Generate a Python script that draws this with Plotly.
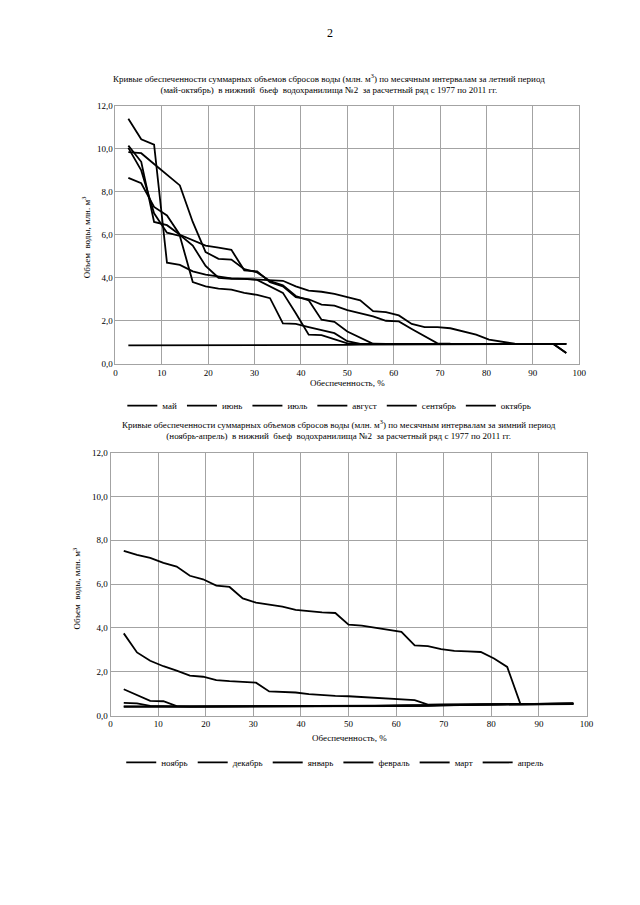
import plotly.graph_objects as go

# Обеспеченность, % (35 лет, 1977-2011)
p = [2.78, 5.56, 8.33, 11.11, 13.89, 16.67, 19.44, 22.22, 25.0, 27.78,
     30.56, 33.33, 36.11, 38.89, 41.67, 44.44, 47.22, 50.0, 52.78, 55.56,
     58.33, 61.11, 63.89, 66.67, 69.44, 72.22, 75.0, 77.78, 80.56, 83.33,
     86.11, 88.89, 91.67, 94.44, 97.22]

summer_names = ["май", "июнь", "июль", "август", "сентябрь", "октябрь"]
may = [11.4, 10.45, 10.2, 4.7, 4.6, 4.3, 4.15, 4.05, 3.97, 3.95, 3.92, 3.88, 3.86, 3.6, 3.4,
       3.35, 3.25, 3.1, 2.95, 2.45, 2.4, 2.25, 1.85, 1.7, 1.7, 1.65, 1.5, 1.35, 1.12, 1.02,
       0.93, 0.92, 0.92, 0.92, 0.5]
jun = [10.15, 9.4, 6.6, 6.45, 6.0, 5.75, 5.5, 5.4, 5.3, 4.35, 4.3, 3.8, 3.6, 3.1, 3.0,
       2.75, 2.7, 2.5, 2.35, 2.2, 2.0, 1.97, 1.62, 1.3, 0.95, 0.93, 0.93, 0.93, 0.93, 0.93,
       0.92, 0.92, 0.92, 0.92, 0.92]
jul = [9.85, 9.8, 9.3, 8.8, 8.3, 6.6, 5.2, 4.88, 4.85, 4.4, 4.25, 3.85, 3.65, 3.15, 2.95,
       2.05, 1.95, 1.5, 1.2, 0.93, 0.92, 0.92, 0.92, 0.92, 0.92, 0.92, 0.92, 0.92, 0.92, 0.92,
       0.92, 0.92, 0.92, 0.92, 0.92]
aug = [8.65, 8.4, 7.3, 6.9, 6.0, 5.5, 4.55, 4.0, 3.95, 3.95, 3.9, 3.6, 3.3, 2.35, 1.35,
       1.33, 1.15, 0.95, 0.92, 0.92, 0.92, 0.92, 0.92, 0.92, 0.92, 0.92, 0.92, 0.92, 0.92, 0.92,
       0.92, 0.92, 0.92, 0.92, 0.92]
sep = [10.05, 9.0, 7.0, 6.1, 5.95, 3.8, 3.6, 3.5, 3.45, 3.3, 3.2, 3.05, 1.88, 1.85, 1.7,
       1.55, 1.42, 1.05, 0.92, 0.92, 0.92, 0.92, 0.92, 0.92, 0.92, 0.92, 0.92, 0.92, 0.92, 0.92,
       0.92, 0.92, 0.92, 0.92, 0.92]
octb = [0.85, 0.85, 0.85, 0.85, 0.85, 0.85, 0.86, 0.86, 0.86, 0.86, 0.87, 0.87, 0.87, 0.87, 0.88,
        0.88, 0.88, 0.88, 0.89, 0.89, 0.89, 0.89, 0.9, 0.9, 0.9, 0.9, 0.9, 0.9, 0.91, 0.91,
        0.91, 0.91, 0.91, 0.92, 0.5]

winter_names = ["ноябрь", "декабрь", "январь", "февраль", "март", "апрель"]
nov = [3.75, 2.88, 2.5, 2.25, 2.05, 1.82, 1.77, 1.62, 1.57, 1.53, 1.5, 1.1, 1.08, 1.05, 0.98,
       0.93, 0.9, 0.88, 0.85, 0.8, 0.76, 0.73, 0.7, 0.5, 0.5, 0.5, 0.51, 0.51, 0.52, 0.52,
       0.53, 0.53, 0.54, 0.54, 0.55]
dec = [1.2, 0.95, 0.67, 0.65, 0.43, 0.42, 0.42, 0.42, 0.42, 0.42, 0.43, 0.43, 0.43, 0.43, 0.44,
       0.44, 0.44, 0.45, 0.45, 0.45, 0.46, 0.46, 0.47, 0.48, 0.5, 0.5, 0.5, 0.51, 0.51, 0.52,
       0.52, 0.53, 0.53, 0.54, 0.55]
jan = [0.58, 0.55, 0.44, 0.42, 0.41, 0.41, 0.41, 0.41, 0.41, 0.42, 0.42, 0.42, 0.42, 0.42, 0.43,
       0.43, 0.43, 0.43, 0.44, 0.44, 0.44, 0.45, 0.46, 0.48, 0.5, 0.5, 0.5, 0.5, 0.51, 0.51,
       0.52, 0.52, 0.52, 0.53, 0.53]
feb = [0.42, 0.41, 0.41, 0.41, 0.41, 0.41, 0.41, 0.41, 0.41, 0.41, 0.41, 0.41, 0.42, 0.42, 0.42,
       0.42, 0.42, 0.42, 0.42, 0.43, 0.43, 0.43, 0.43, 0.44, 0.46, 0.48, 0.5, 0.5, 0.5, 0.5,
       0.51, 0.51, 0.52, 0.52, 0.52]
mar = [0.4, 0.4, 0.4, 0.4, 0.4, 0.4, 0.4, 0.41, 0.41, 0.41, 0.41, 0.41, 0.41, 0.41, 0.42,
       0.42, 0.42, 0.42, 0.42, 0.43, 0.43, 0.43, 0.44, 0.45, 0.48, 0.5, 0.5, 0.5, 0.51, 0.51,
       0.51, 0.52, 0.52, 0.53, 0.53]
apr = [7.52, 7.33, 7.2, 6.97, 6.8, 6.38, 6.22, 5.93, 5.87, 5.35, 5.15, 5.05, 4.97, 4.82, 4.75,
       4.71, 4.68, 4.15, 4.1, 4.0, 3.9, 3.82, 3.2, 3.17, 3.03, 2.95, 2.93, 2.9, 2.6, 2.22,
       0.52, 0.53, 0.54, 0.55, 0.55]

summer = [may, jun, jul, aug, sep, octb]
winter = [nov, dec, jan, feb, mar, apr]

x_ticks = [0, 10, 20, 30, 40, 50, 60, 70, 80, 90, 100]
y_ticks = [0, 2, 4, 6, 8, 10, 12]

FONT = "Liberation Serif"
OFF = 8                      # default page (body) margin
W, H = 640 - 2 * OFF, 905 - 2 * OFF
GRID = "#a3a3a3"


def px(v):
    return (v - OFF) / W


def py(v):
    return 1 - (v - OFF) / H


fig = go.Figure()
for name, vals in zip(summer_names, summer):
    fig.add_trace(go.Scatter(x=p, y=vals, mode="lines", name=name,
                             line=dict(color="black", width=1.8),
                             xaxis="x", yaxis="y", legend="legend"))
for name, vals in zip(winter_names, winter):
    fig.add_trace(go.Scatter(x=p, y=vals, mode="lines", name=name,
                             line=dict(color="black", width=1.8),
                             xaxis="x2", yaxis="y2", legend="legend2"))

axis_common = dict(showgrid=True, gridcolor=GRID, gridwidth=1, zeroline=False,
                   showline=True, linecolor=GRID, linewidth=1, mirror=True,
                   ticks="", tickfont=dict(family=FONT, size=9, color="black"))

fig.update_layout(
    width=W, height=H, margin=dict(l=0, r=0, t=0, b=0),
    paper_bgcolor="white", plot_bgcolor="white",
    separators=", ",
    showlegend=True,
    font=dict(family=FONT, size=9, color="black"),
    xaxis=dict(domain=[px(115), px(585.5)], range=[0, 100], tickvals=x_ticks,
               anchor="y", **axis_common),
    yaxis=dict(domain=[py(362.7), py(102)], range=[0, 12], tickvals=y_ticks,
               tickformat=".1f", anchor="x", **axis_common),
    xaxis2=dict(domain=[px(110), px(593)], range=[0, 100], tickvals=x_ticks,
                anchor="y2", **axis_common),
    yaxis2=dict(domain=[py(718.5), py(452.7)], range=[0, 12], tickvals=y_ticks,
                tickformat=".1f", anchor="x2", **axis_common),
    legend=dict(orientation="h", x=px(332), xanchor="center", y=py(405), yanchor="middle",
                font=dict(family=FONT, size=9), itemwidth=30, tracegroupgap=0,
                bgcolor="rgba(0,0,0,0)"),
    legend2=dict(orientation="h", x=px(338), xanchor="center", y=py(766), yanchor="middle",
                 font=dict(family=FONT, size=9), itemwidth=30, tracegroupgap=0,
                 bgcolor="rgba(0,0,0,0)"),
)

ann = [
    dict(text="2", x=px(333), y=py(28), size=12),
    dict(text="Кривые обеспеченности суммарных объемов сбросов воды (млн. м<sup>3</sup>) по месячным интервалам за летний период"
              "<br>(май-октябрь)  в нижний  бьеф  водохранилища №2  за расчетный ряд с 1977 по 2011 гг.",
         x=px(332), y=py(79.5), size=9),
    dict(text="Кривые обеспеченности суммарных объемов сбросов воды (млн. м<sup>3</sup>) по месячным интервалам за зимний период"
              "<br>(ноябрь-апрель)  в нижний  бьеф  водохранилища №2  за расчетный ряд с 1977 по 2011 гг.",
         x=px(342), y=py(429), size=9),
    dict(text="Обеспеченность, %", x=px(350), y=py(382), size=9),
    dict(text="Обеспеченность, %", x=px(352), y=py(741), size=9),
    dict(text="Объем  воды, млн. м<sup>3</sup>", x=px(86), y=py(235), size=9, angle=-90),
    dict(text="Объем  воды, млн. м<sup>3</sup>", x=px(76), y=py(590), size=9, angle=-90),
]
for a in ann:
    fig.add_annotation(text=a["text"], x=a["x"], y=a["y"], xref="paper", yref="paper",
                       xanchor="center", yanchor="middle", showarrow=False,
                       textangle=a.get("angle", 0),
                       font=dict(family=FONT, size=a["size"], color="black"))

fig.write_html("out.html")
